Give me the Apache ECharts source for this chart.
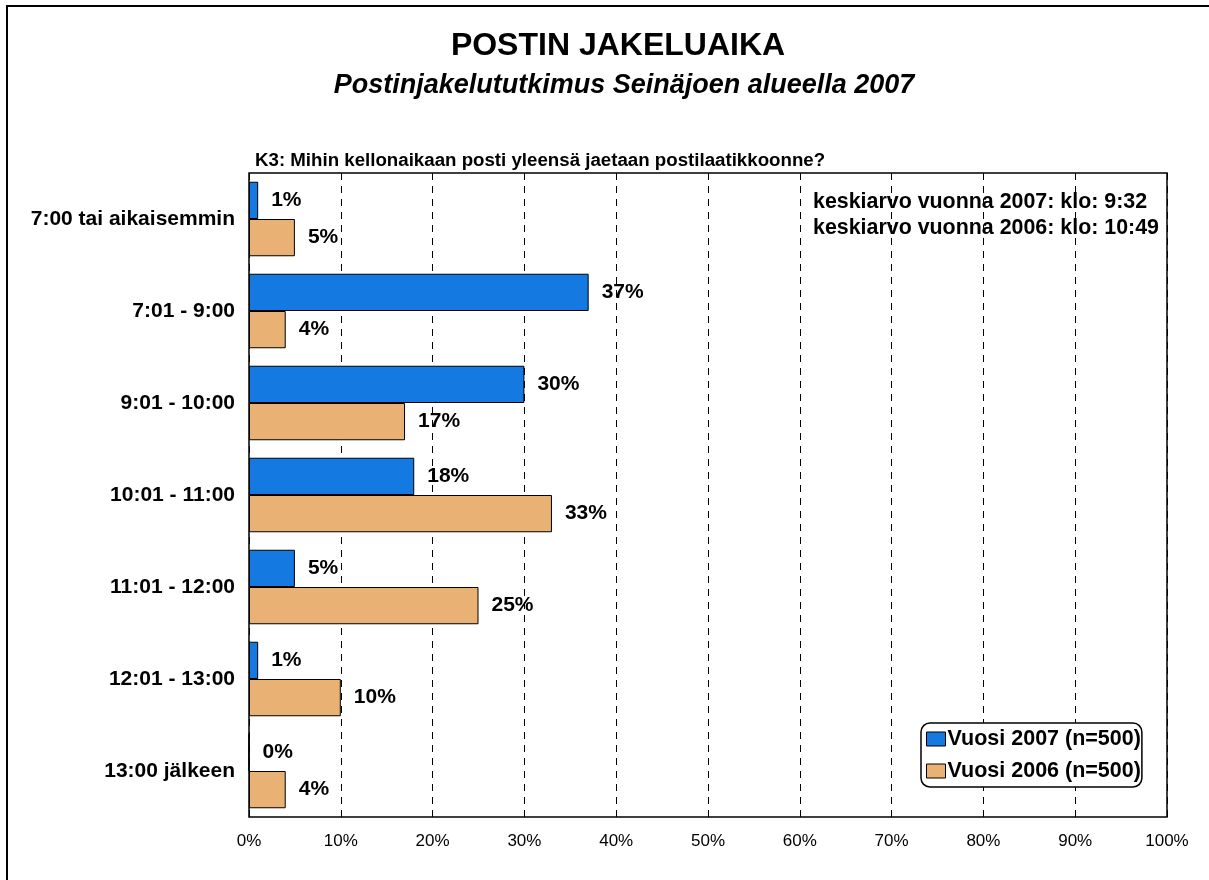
<!DOCTYPE html>
<html>
<head>
<meta charset="utf-8">
<script src="https://cdn.jsdelivr.net/npm/echarts@6/dist/echarts.min.js"></script>
<style>
  html, body { margin: 0; padding: 0; background: #ffffff; }
  #chart { width: 1209px; height: 880px; }
</style>
</head>
<body>
<div id="chart"></div>
<script>
  // kellonaikaluokat ylhäältä alas
  var categories = ["7:00 tai aikaisemmin", "7:01 - 9:00", "9:01 - 10:00", "10:01 - 11:00", "11:01 - 12:00", "12:01 - 13:00", "13:00 jälkeen"];
  var values2007 = [1, 37, 30, 18, 5, 1, 0];
  var values2006 = [5, 4, 17, 33, 25, 10, 4];
  var seriesNames = ["Vuosi 2007 (n=500)", "Vuosi 2006 (n=500)"];
  var tickValues = [0, 10, 20, 30, 40, 50, 60, 70, 80, 90, 100];

  var FONT = "Liberation Sans, Arial, sans-serif";

  var chart = echarts.init(document.getElementById("chart"), null, { renderer: "canvas" });

  function barLabel() {
    return {
      show: true,
      position: "right",
      distance: 13,
      formatter: "{c}%",
      color: "#000",
      fontFamily: FONT,
      fontWeight: "bold",
      fontSize: 21
    };
  }

  var option = {
    backgroundColor: "#ffffff",
    animation: false,
    title: [
      {
        text: "K3: Mihin kellonaikaan posti yleensä jaetaan postilaatikkoonne?",
        left: 250,
        top: 146,
        textStyle: { fontFamily: FONT, fontWeight: "bold", fontSize: 18.7, color: "#000" }
      }
    ],
    legend: {
      data: seriesNames,
      orient: "vertical",
      left: 921,
      top: 723,
      icon: "rect",
      itemWidth: 19,
      itemHeight: 14,
      itemGap: 10,
      padding: [5, 1, 5, 5],
      borderColor: "#000",
      borderWidth: 1.5,
      borderRadius: 9,
      backgroundColor: "#fff",
      itemStyle: { borderColor: "#000", borderWidth: 1 },
      textStyle: { fontFamily: FONT, fontWeight: "bold", fontSize: 21.5, lineHeight: 21, color: "#000", padding: [0, 0, 0, -3] }
    },
    grid: {
      left: 249,
      top: 173,
      width: 918,
      height: 644,
      show: true,
      borderColor: "#000",
      borderWidth: 1.5,
      containLabel: false
    },
    xAxis: {
      type: "value",
      min: 0,
      max: 100,
      interval: 10,
      axisLine: { show: false },
      axisTick: { show: false },
      axisLabel: {
        color: "#000",
        fontFamily: FONT,
        fontSize: 17,
        margin: 16,
        formatter: function (v) { return tickValues.indexOf(v) >= 0 ? v + "%" : ""; }
      },
      splitLine: { show: true, lineStyle: { color: "#000", type: [7, 6], width: 1 } }
    },
    yAxis: {
      type: "category",
      data: categories,
      inverse: true,
      axisLine: { show: false },
      axisTick: { show: false },
      axisLabel: {
        color: "#000",
        fontFamily: FONT,
        fontWeight: "bold",
        fontSize: 21,
        margin: 14
      }
    },
    series: [
      {
        name: seriesNames[0],
        type: "bar",
        data: values2007,
        barGap: "0%",
        barCategoryGap: "19%",
        itemStyle: { color: "#1479e0", borderColor: "#000", borderWidth: 1 },
        label: barLabel()
      },
      {
        name: seriesNames[1],
        type: "bar",
        data: values2006,
        barGap: "0%",
        barCategoryGap: "19%",
        itemStyle: { color: "#e9b173", borderColor: "#000", borderWidth: 1 },
        label: barLabel()
      }
    ],
    graphic: [
      {
        type: "rect",
        shape: { x: 7, y: 6, width: 1400, height: 1000 },
        style: { fill: "none", stroke: "#000", lineWidth: 2 },
        silent: true
      },
      {
        type: "text",
        x: 618,
        y: 46,
        style: {
          text: "POSTIN JAKELUAIKA",
          align: "center",
          verticalAlign: "middle",
          fill: "#000",
          font: "bold 32px " + FONT
        }
      },
      {
        type: "text",
        x: 624,
        y: 86,
        style: {
          text: "Postinjakelututkimus Seinäjoen alueella 2007",
          align: "center",
          verticalAlign: "middle",
          fill: "#000",
          font: "italic bold 27px " + FONT
        }
      },
      {
        type: "text",
        left: 813,
        top: 189,
        style: {
          text: "keskiarvo vuonna 2007: klo: 9:32\nkeskiarvo vuonna 2006: klo: 10:49",
          fill: "#000",
          font: "bold 21.4px " + FONT,
          lineHeight: 26
        }
      }
    ]
  };

  chart.setOption(option);
</script>
</body>
</html>
